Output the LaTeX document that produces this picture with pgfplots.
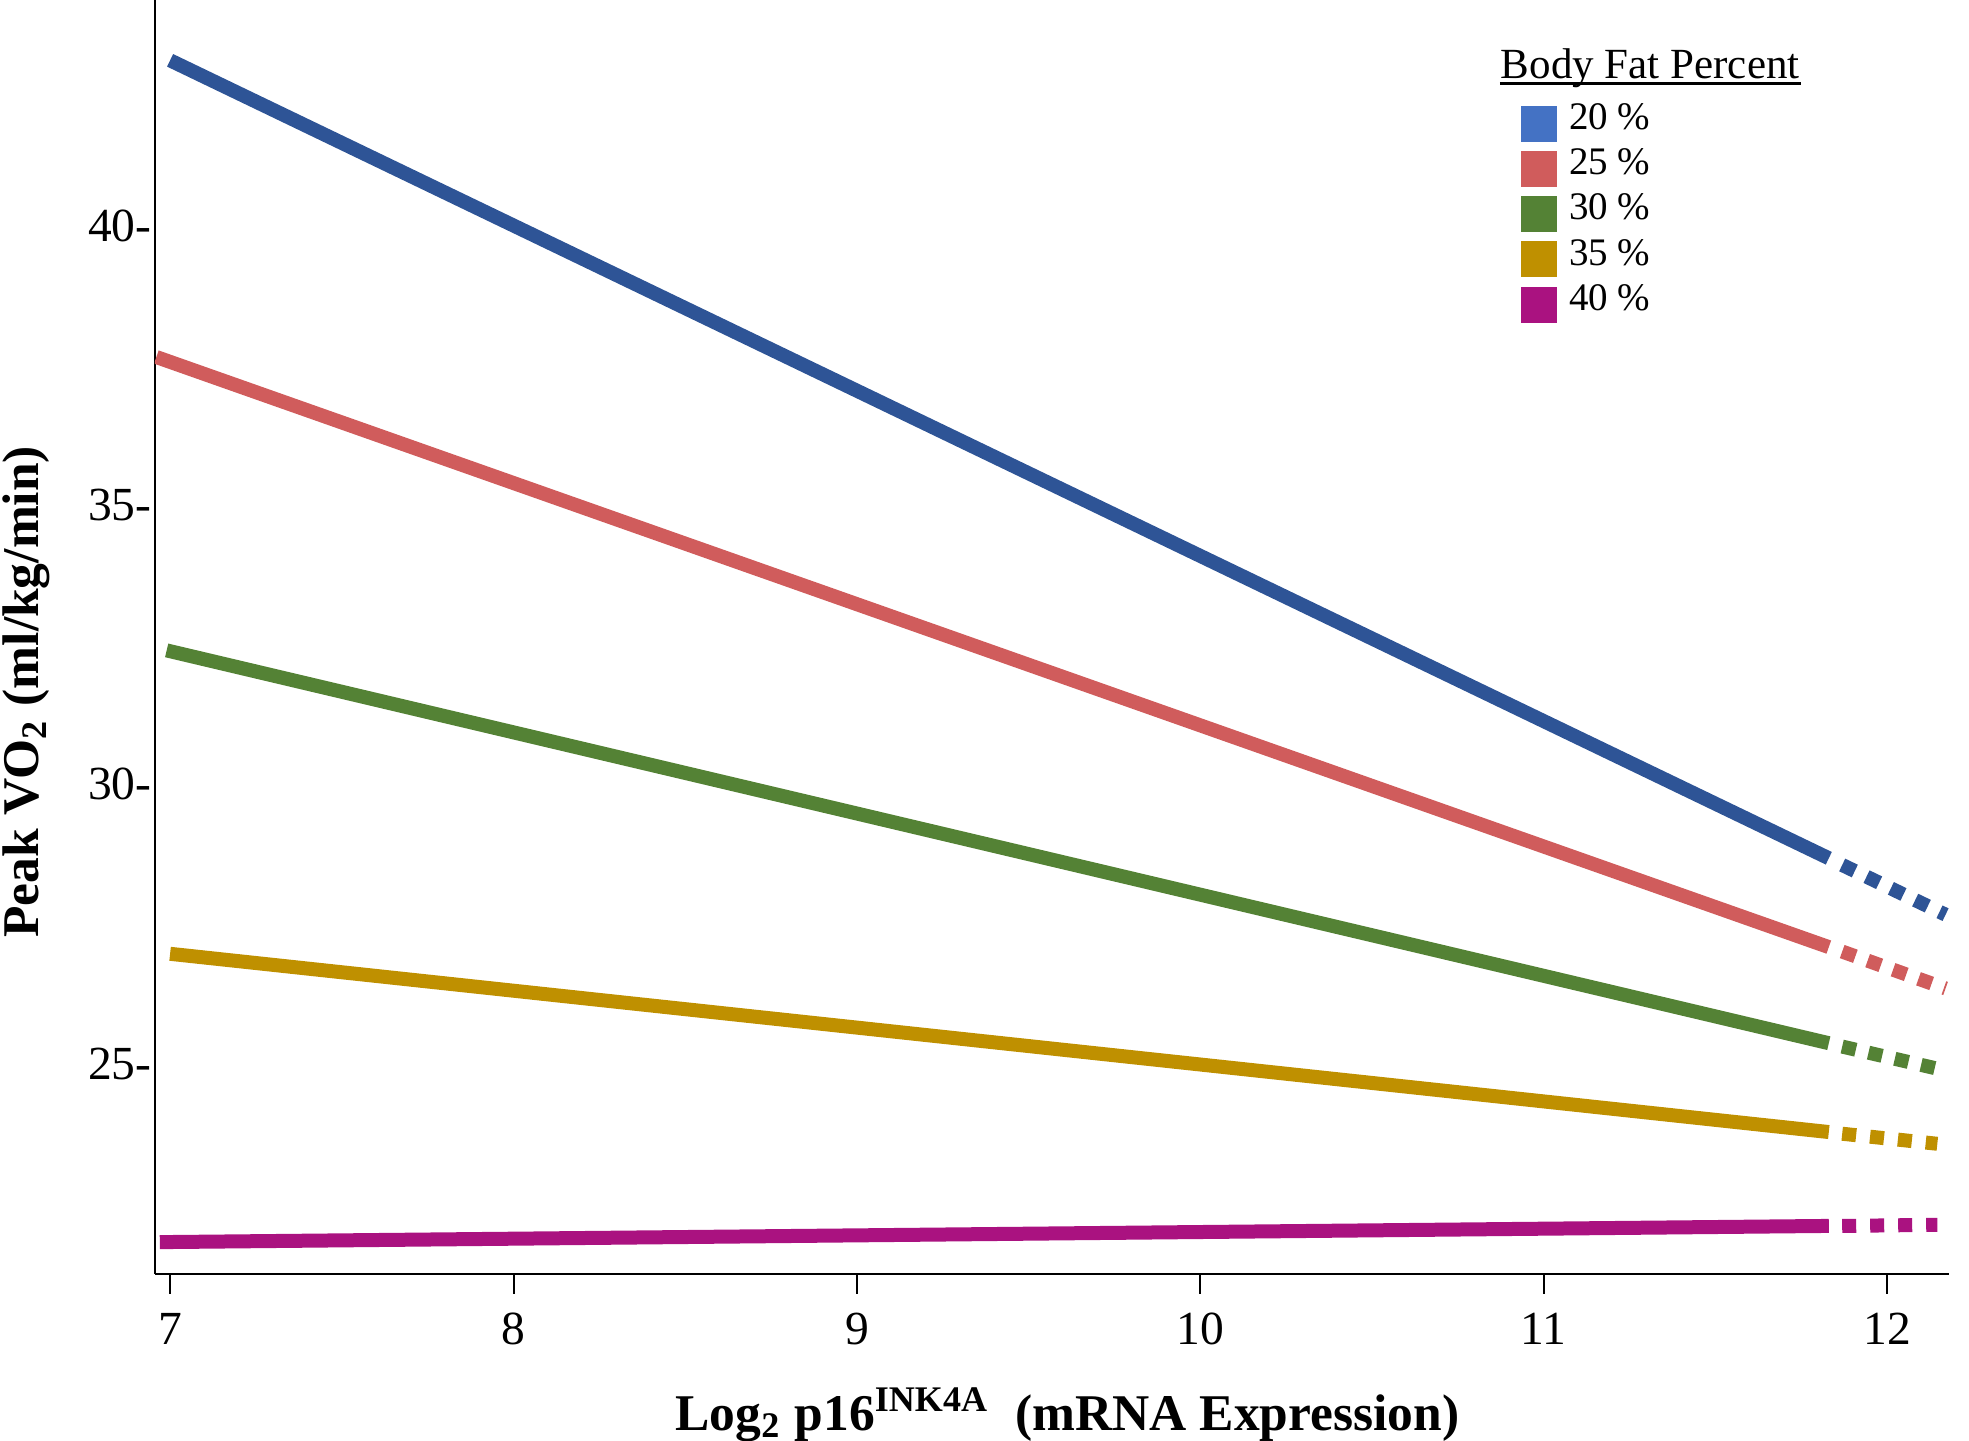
\documentclass[border=0pt]{standalone}
\usepackage{fontspec}
\setmainfont{Liberation Serif}
\usepackage{pgfplots}
\pgfplotsset{compat=1.18}
\definecolor{cblue}{RGB}{46,84,150}
\definecolor{lblue}{RGB}{68,114,196}
\definecolor{cred}{RGB}{208,92,92}
\definecolor{cgreen}{RGB}{84,130,53}
\definecolor{cgold}{RGB}{191,144,0}
\definecolor{cmag}{RGB}{170,18,128}
\begin{document}
\begin{tikzpicture}
\begin{axis}[
  at={(0,0)}, anchor=south west,
  scale only axis, width=358.8pt, height=254.8pt,
  xmin=6.956, xmax=12.18, ymin=21.30, ymax=44.10,
  axis x line*=bottom, axis y line*=left,
  axis line style={-, line width=0.5pt, black},
  xtick={7,8,9,10,11,12}, xticklabels={7,8,9,10,11,12},
  ytick={25,30,35,40}, yticklabels={25-,30-,35-,40-},
  tick align=outside, major tick length=4pt,
  xtick style={line width=0.4pt, black},
  ytick style={draw=none},
  tick label style={font=\fontsize{9.5}{11}\selectfont},
  yticklabel style={xshift=6.8pt, yshift=0.7pt},
  xticklabel style={yshift=-0.3pt},
  xlabel={\textbf{Log\textsubscript{2} p16\textsuperscript{INK4A}\ \ (mRNA Expression)}},
  ylabel={\textbf{Peak VO\textsubscript{2} (ml/kg/min)}},
  label style={font=\fontsize{10.3}{12}\selectfont},
  xlabel style={at={(axis description cs:0.5086,-0.1225)}, anchor=base},
  ylabel style={at={(axis description cs:-0.0715,0.457)}, anchor=center},
  legend image code/.code={\fill[#1] (0pt,-3.4pt) rectangle (6.8pt,3.4pt);},
  legend style={at={(axis description cs:0.761,0.9215)}, anchor=north west,
    draw=none, fill=none, inner sep=0pt, row sep=0pt, column sep=2.4pt,
    font=\fontsize{7.8}{9}\selectfont,
    nodes={inner sep=0pt, text height=5.7pt, text depth=3.35pt}},
  legend cell align=left,
]
% solid parts
\addplot[cblue, line width=2.8pt, forget plot] coordinates {(7.0,43.02) (11.83,28.74)};
\addplot[cred, line width=2.8pt, forget plot] coordinates {(6.96,37.71) (11.83,27.15)};
\addplot[cgreen, line width=2.8pt, forget plot] coordinates {(6.99,32.46) (11.83,25.43)};
\addplot[cgold, line width=2.8pt, forget plot] coordinates {(7.0,27.03) (11.83,23.84)};
\addplot[cmag, line width=2.8pt, forget plot] coordinates {(6.97,21.87) (11.83,22.16)};
% dashed extrapolation
\addplot[cblue, line width=2.8pt, dash pattern=on 2.8pt off 2.6pt, forget plot] coordinates {(11.869,28.62) (12.17,27.73)};
\addplot[cred, line width=2.8pt, dash pattern=on 2.8pt off 2.6pt, forget plot] coordinates {(11.869,27.07) (12.17,26.41)};
\addplot[cgreen, line width=2.8pt, dash pattern=on 2.8pt off 2.6pt, forget plot] coordinates {(11.869,25.37) (12.17,24.94)};
\addplot[cgold, line width=2.8pt, dash pattern=on 2.8pt off 2.8pt, forget plot] coordinates {(11.869,23.81) (12.146,23.63)};
\addplot[cmag, line width=2.8pt, dash pattern=on 2.8pt off 2.8pt, forget plot] coordinates {(11.869,22.16) (12.146,22.18)};
\addlegendimage{lblue}\addlegendentry{20 \%}
\addlegendimage{cred}\addlegendentry{25 \%}
\addlegendimage{cgreen}\addlegendentry{30 \%}
\addlegendimage{cgold}\addlegendentry{35 \%}
\addlegendimage{cmag}\addlegendentry{40 \%}
\node[anchor=base west, inner sep=0pt, font=\fontsize{8.6}{10}\selectfont] (bft) at (rel axis cs:0.7497,0.938) {Body Fat Percent};
\draw[line width=0.45pt] ([yshift=-0.9pt]bft.base west) -- ([yshift=-0.9pt]bft.base east);
\end{axis}
\pgfresetboundingbox
\path[use as bounding box] (-31pt,-33.4pt) rectangle (362.8pt,254.8pt);
\end{tikzpicture}
\end{document}
